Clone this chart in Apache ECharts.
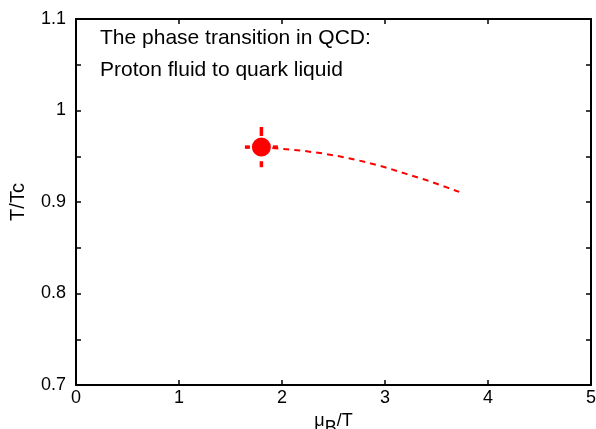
<!DOCTYPE html>
<html>
<head>
<meta charset="utf-8">
<script src="https://cdn.jsdelivr.net/npm/echarts@6/dist/echarts.min.js"></script>
<style>html,body{margin:0;padding:0;background:#fff}#c{width:596px;height:429px}</style>
</head>
<body>
<div id="c"></div>
<script>
// Data
var curveX = [1.8, 2.0, 2.2, 2.4, 2.6, 2.8, 3.0, 3.2, 3.4, 3.6, 3.72];
var curveY = [0.960, 0.958, 0.956, 0.953, 0.949, 0.944, 0.938, 0.931, 0.924, 0.916, 0.911];
var pointX = [1.8];
var pointY = [0.96];
var pointErrX = [0.16];
var pointErrY = [0.022];
var annotationLines = ['The phase transition in QCD:', 'Proton fluid to quark liquid'];

var FONT = 'Liberation Sans, Arial, Helvetica, sans-serif';
var chart = echarts.init(document.getElementById('c'), null, {renderer: 'canvas'});

var lineData = curveX.map(function (x, i) { return [x, curveY[i]]; });
var ptData = pointX.map(function (x, i) { return [x, pointY[i], pointErrX[i], pointErrY[i]]; });

var tickStyle = {show: true, inside: true, length: 5, lineStyle: {color: '#000', width: 1.5}};
var lineStyleAxis = {show: true, onZero: false, lineStyle: {color: '#000', width: 2}};
var annY = [38.5, 70];

chart.setOption({
  animation: false,
  backgroundColor: '#fff',
  grid: {left: 76, right: 5, top: 19, bottom: 44, containLabel: false, outerBoundsMode: 'none'},
  graphic: annotationLines.map(function (t, i) {
    return {type: 'text', x: 100, y: annY[i],
      style: {text: t, font: '21px ' + FONT, fill: '#000', verticalAlign: 'middle', align: 'left'}};
  }),
  xAxis: [{
    type: 'value', min: 0, max: 5, interval: 1, position: 'bottom',
    axisLine: lineStyleAxis, axisTick: tickStyle, splitLine: {show: false},
    axisLabel: {color: '#000', fontSize: 18, fontFamily: FONT, margin: 4},
    name: '{m|μ}{s|B}{m|/T}', nameLocation: 'middle', nameGap: 18,
    nameTextStyle: {rich: {
      m: {fontSize: 18, fontFamily: FONT, color: '#000', verticalAlign: 'top', height: 19, lineHeight: 19},
      s: {fontSize: 18, fontFamily: FONT, color: '#000', verticalAlign: 'bottom', height: 19, lineHeight: 26}
    }}
  }, {
    type: 'value', min: 0, max: 5, interval: 1, position: 'top',
    axisLine: lineStyleAxis, axisTick: tickStyle, axisLabel: {show: false}, splitLine: {show: false}
  }],
  yAxis: [{
    type: 'value', min: 0.7, max: 1.1, interval: 0.1, position: 'left',
    axisLine: lineStyleAxis, axisTick: tickStyle, splitLine: {show: false},
    minorTick: {show: true, splitNumber: 2, length: 5, lineStyle: {color: '#000', width: 1.5}},
    axisLabel: {color: '#000', fontSize: 18, fontFamily: FONT, margin: 10, padding: [0, 0, 5, 0],
      formatter: function (v) { return String(Math.round(v * 10) / 10); }},
    name: 'T/Tc', nameLocation: 'middle', nameGap: 48,
    nameTextStyle: {color: '#000', fontSize: 20, fontFamily: FONT}
  }, {
    type: 'value', min: 0.7, max: 1.1, interval: 0.1, position: 'right',
    axisLine: lineStyleAxis, axisTick: tickStyle, splitLine: {show: false},
    minorTick: {show: true, splitNumber: 2, length: 5, lineStyle: {color: '#000', width: 1.5}},
    axisLabel: {show: false}
  }],
  series: [{
    type: 'line', data: lineData, symbol: 'none', smooth: false, z: 2,
    lineStyle: {color: '#ff0000', width: 2, type: [6, 5]}
  }, {
    type: 'custom', data: ptData, z: 3,
    renderItem: function (params, api) {
      var x = api.value(0), y = api.value(1), dx = api.value(2), dy = api.value(3);
      var l = api.coord([x - dx, y]), r = api.coord([x + dx, y]);
      var t = api.coord([x, y + dy]), b = api.coord([x, y - dy]);
      var c = api.coord([x, y]);
      return {type: 'group', children: [
        {type: 'line', shape: {x1: t[0], y1: t[1], x2: c[0], y2: c[1]}, style: {stroke: '#ff0000', lineWidth: 3.5, lineDash: [9, 24]}},
        {type: 'line', shape: {x1: b[0], y1: b[1], x2: c[0], y2: c[1]}, style: {stroke: '#ff0000', lineWidth: 3.5, lineDash: [6, 24]}},
        {type: 'line', shape: {x1: l[0], y1: l[1], x2: c[0], y2: c[1]}, style: {stroke: '#ff0000', lineWidth: 3.5, lineDash: [5, 24]}},
        {type: 'line', shape: {x1: r[0], y1: r[1], x2: c[0], y2: c[1]}, style: {stroke: '#ff0000', lineWidth: 3.5, lineDash: [5, 24]}},
        {type: 'circle', shape: {cx: c[0], cy: c[1], r: 9.5}, style: {fill: '#ff0000'}}
      ]};
    }
  }]
});
</script>
</body>
</html>
